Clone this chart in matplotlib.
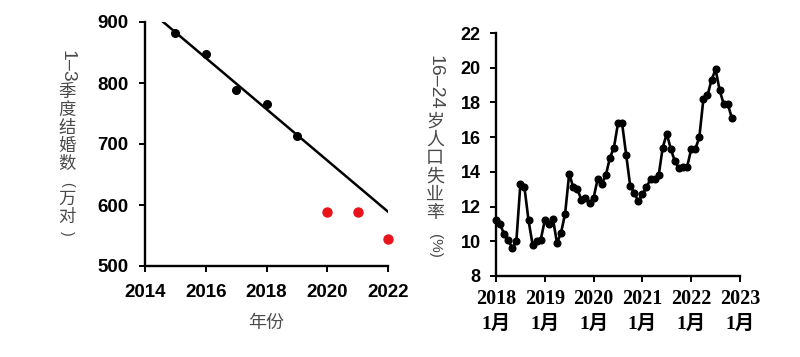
import matplotlib
matplotlib.use('Agg')
import matplotlib.pyplot as plt
import matplotlib.transforms as mtransforms
import numpy as np

# ---------------- data ----------------
years_pre = [2015, 2016, 2017, 2018, 2019]
marriages_pre = [882, 848, 789, 765, 713]
years_post = [2020, 2021, 2022]
marriages_post = [589, 589, 545]
trend_years = [2014.6, 2022]
trend_values = [900, 589]
left_xticks = [2014, 2016, 2018, 2020, 2022]
left_yticks = [500, 600, 700, 800, 900]

youth_unemp = [
    11.2, 11.0, 10.4, 10.1, 9.6, 10.0, 13.3, 13.1, 11.2, 9.8, 10.0, 10.1,   # 2018
    11.2, 11.0, 11.3, 9.9, 10.5, 11.6, 13.9, 13.1, 13.0, 12.4, 12.5, 12.2,  # 2019
    12.5, 13.6, 13.3, 13.8, 14.8, 15.4, 16.8, 16.8, 15.0, 13.2, 12.8, 12.3,  # 2020
    12.7, 13.1, 13.6, 13.6, 13.8, 15.4, 16.2, 15.3, 14.6, 14.2, 14.3, 14.3,  # 2021
    15.3, 15.3, 16.0, 18.2, 18.4, 19.3, 19.9, 18.7, 17.9, 17.9, 17.1,        # 2022
]
right_xtick_years = ['2018', '2019', '2020', '2021', '2022', '2023']
right_xtick_month = '1月'
right_yticks = [8, 10, 12, 14, 16, 18, 20, 22]

W, H = 800, 357
fig = plt.figure(figsize=(W / 100, H / 100), dpi=100)

SANS_B = dict(family=['Liberation Sans', 'DejaVu Sans'], weight='bold')
CJK = ['Noto Sans CJK SC', 'DejaVu Sans']
LABEL_COLOR = '#4a4a4a'


def px_axes(x0, y_top, x1, y_bot):
    return fig.add_axes([x0 / W, 1 - y_bot / H, (x1 - x0) / W, (y_bot - y_top) / H])


def style_axes(ax):
    for s in ['top', 'right']:
        ax.spines[s].set_visible(False)
    for s in ['left', 'bottom']:
        ax.spines[s].set_linewidth(1.7)
    ax.tick_params(direction='out', length=4, width=1.4, color='black')


# ---------------- left chart ----------------
ax1 = px_axes(145, 22, 388, 266)
style_axes(ax1)
ax1.plot(trend_years, trend_values, color='black', lw=1.8, zorder=2)
ax1.plot(years_pre, marriages_pre, 'o', color='black', ms=5.5, zorder=3, clip_on=False)
ax1.plot(years_post, marriages_post, 'o', color='#e8141c', ms=6.5, zorder=3, clip_on=False)
ax1.set_xlim(2014, 2022)
ax1.set_ylim(500, 900)
ax1.set_xticks(left_xticks)
ax1.set_yticks(left_yticks)
ax1.set_xticklabels([str(v) for v in left_xticks], fontsize=13.5, **SANS_B)
ax1.set_yticklabels([str(v) for v in left_yticks], fontsize=13.5, **SANS_B)
ax1.tick_params(axis='x', pad=9)
ax1.tick_params(axis='y', pad=8)
ax1.set_xlabel('年份', family=CJK, fontsize=13, color=LABEL_COLOR, labelpad=9)

# ---------------- right chart ----------------
ax2 = px_axes(496, 33, 740, 276)
style_axes(ax2)
months = np.arange(len(youth_unemp))
ax2.plot(months, youth_unemp, '-o', color='black', lw=1.9, ms=4.8, clip_on=False)
ax2.set_xlim(0, 60)
ax2.set_ylim(8, 22)
xt = np.arange(0, 61, 12)
ax2.set_xticks(xt)
ax2.set_xticklabels(right_xtick_years, fontsize=14.5, family=['Liberation Serif'], weight='bold')
ax2.tick_params(axis='x', pad=5)
ax2.set_yticks(right_yticks)
ax2.set_yticklabels([str(v) for v in right_yticks], fontsize=13, **SANS_B)
ax2.tick_params(axis='y', pad=7)
trans = mtransforms.blended_transform_factory(ax2.transData, ax2.transAxes)
for m in xt:
    ax2.text(m, -0.198, right_xtick_month, transform=trans, ha='center', va='center',
             fontsize=14, family=['Liberation Serif', 'Noto Sans CJK SC'], weight='bold')


# ---------------- vertical y labels ----------------
def ftext(x, y, s, **kw):
    fig.text(x / W, 1 - y / H, s, **kw)


def rot_piece(x, y, s, size):
    ftext(x, y, s, rotation=-90, ha='center', va='center', fontsize=size,
          family=['Liberation Sans', 'DejaVu Sans'], color=LABEL_COLOR)


def cjk_column(x, y_center, chars, size, ls):
    ftext(x, y_center, '\n'.join(chars), ha='center', va='center', fontsize=size,
          family=CJK, color=LABEL_COLOR, linespacing=ls, multialignment='center')


# left: 1–3季度结婚数（万对）
rot_piece(67, 66, '1–3', 14)
cjk_column(67, 128, '季度结婚数', 12.5, 0.99)
rot_piece(67, 184, '(', 10)
cjk_column(67, 208, '万对', 12.5, 0.99)
rot_piece(67, 233, ')', 10)

# right: 16–24岁人口失业率（%）
rot_piece(435, 82, '16–24', 14)
cjk_column(435, 167, '岁人口失业率', 13, 1.02)
rot_piece(435, 246, '(%)', 11)

fig.savefig('out.png', dpi=100)
